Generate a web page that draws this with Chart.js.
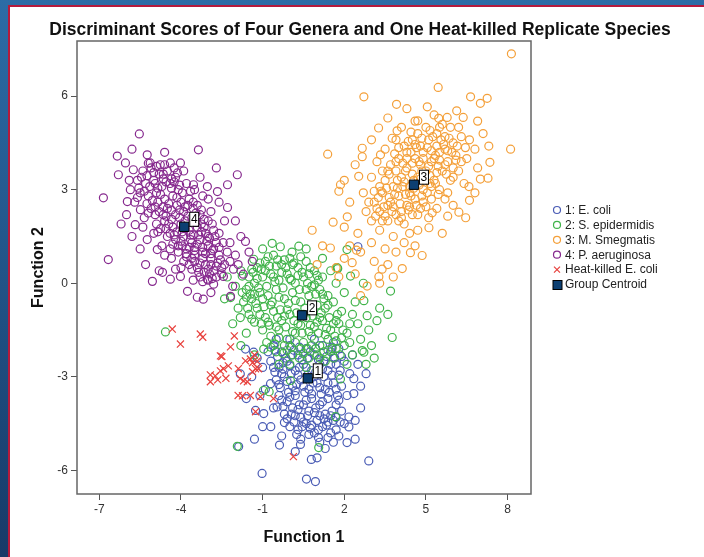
<!DOCTYPE html>
<html>
<head>
<meta charset="utf-8">
<script src="https://cdn.jsdelivr.net/npm/chart.js@4.4.1/dist/chart.umd.min.js"></script>
<style>
html, body { margin: 0; padding: 0; width: 704px; height: 557px; overflow: hidden; }
body { background: linear-gradient(#2c6ca6, #173a68); position: relative; }
#panel { position: absolute; left: 8px; top: 5px; right: 0; bottom: 0; background: #fff;
  border-left: 2px solid #b51a3c; border-top: 2px solid #b51a3c; }
#chart { position: absolute; left: 0; top: 0; }
</style>
</head>
<body>
<div id="panel"></div>
<canvas id="chart" width="704" height="557"></canvas>
<script>
// tick labels
const xTicks = [-7, -4, -1, 2, 5, 8];
const yTicks = [-6, -3, 0, 3, 6];

// discriminant scores, [function 1, function 2]
const ecoli = [
  [-0.6,-2.0],[-0.3,-2.2],[0.0,-2.0],[0.3,-2.3],[0.6,-2.1],[0.9,-2.3],[1.2,-2.0],[1.5,-2.2],[1.8,-2.1],
  [-0.7,-2.5],[-0.4,-2.7],[-0.1,-2.5],[0.2,-2.8],[0.5,-2.6],[0.8,-2.8],[1.1,-2.6],[1.4,-2.8],[1.7,-2.6],[2.0,-2.5],
  [-0.5,-3.1],[-0.2,-3.0],[0.1,-3.3],[0.4,-3.1],[0.7,-3.4],[1.0,-3.2],[1.3,-3.4],[1.6,-3.2],[1.9,-3.3],
  [-0.4,-3.6],[-0.1,-3.8],[0.2,-3.6],[0.5,-3.9],[0.8,-3.7],[1.1,-3.9],[1.4,-3.7],[1.7,-3.9],
  [-0.2,-4.2],[0.1,-4.0],[0.4,-4.3],[0.7,-4.1],[1.0,-4.4],[1.3,-4.2],[1.6,-4.4],[1.9,-4.1],
  [0.0,-4.6],[0.3,-4.7],[0.6,-4.5],[0.9,-4.8],[1.2,-4.6],[1.5,-4.8],
  [-0.45,-2.35],[-0.15,-2.4],[0.15,-2.15],[0.45,-2.45],[0.75,-2.2],[1.05,-2.45],[1.35,-2.35],[1.65,-2.4],
  [-0.55,-2.85],[-0.25,-2.75],[0.05,-2.9],[0.35,-2.7],[0.65,-2.95],[0.95,-2.85],[1.25,-3.0],[1.55,-2.95],[1.85,-2.8],
  [-0.35,-3.35],[-0.05,-3.5],[0.25,-3.25],[0.55,-3.5],[0.85,-3.2],[1.15,-3.55],[1.45,-3.5],[1.75,-3.6],
  [-0.25,-3.95],[0.05,-4.2],[0.35,-3.9],[0.65,-4.25],[0.95,-4.0],[1.25,-4.35],[1.55,-4.1],[1.85,-4.45],
  [0.15,-4.45],[0.45,-4.6],[0.75,-4.65],[1.05,-4.7],[1.35,-4.55],[1.7,-4.7],
  [-0.55,-2.15],[-0.25,-2.55],[0.05,-2.3],[0.35,-2.05],[0.65,-2.4],[0.95,-2.1],[1.25,-2.5],[1.55,-2.05],[1.9,-2.35],
  [-0.6,-2.7],[-0.3,-2.9],[0.0,-2.65],[0.3,-2.95],[0.6,-2.7],[0.9,-3.0],[1.2,-2.75],[1.5,-2.6],[1.8,-2.95],
  [-0.4,-3.25],[-0.1,-3.15],[0.2,-3.45],[0.5,-3.3],[0.8,-3.55],[1.1,-3.35],[1.4,-3.2],[1.7,-3.4],
  [-0.3,-3.75],[0.0,-3.65],[0.3,-4.05],[0.6,-3.75],[0.9,-4.15],[1.2,-3.8],[1.5,-4.25],[1.8,-3.75],
  [-0.1,-4.35],[0.2,-4.25],[0.5,-4.45],[0.8,-4.55],[1.1,-4.25],[1.4,-4.45],[1.7,-4.3],
  [0.25,-4.85],[0.7,-4.85],[1.05,-4.95],[1.4,-4.95],
  [-0.8,-2.2],[-1.0,-2.7],[-0.9,-3.4],[-0.6,-4.0],[2.2,-2.9],[2.1,-3.6],[2.0,-4.5],[1.8,-4.9],[0.4,-5.0],
  [1.1,-5.1],[-0.3,-4.9],[2.3,-2.3],[2.5,-2.6],[-1.2,-2.4],[1.6,-1.9],[0.0,-1.8],[-0.5,-1.8],[0.9,-1.8],
  [-1.88,-5.24],[-0.38,-5.19],[0.39,-5.17],[0.79,-5.65],[-1.02,-6.1],[0.61,-6.28],[0.94,-6.36],[2.9,-5.7],
  [2.1,-5.11],[2.35,-3.06],[2.35,-3.54],[2.17,-4.29],[2.17,-4.61],[-1.63,-2.11],[-1.33,-2.21],[-1.82,-2.91],
  [-0.71,-3.22],[-0.47,-3.97],[-0.2,-4.47],[-0.96,-4.18],[-1.26,-4.08],[2.5,1.17],[1.6,-5.1],[1.3,-5.3],
  [2.6,-4.0],[-1.4,-3.0],[-1.1,-3.6],
  [-1.0,-4.6],[-0.7,-4.6],[2.4,-4.4],[2.6,-3.3],[2.8,-2.9],[0.2,-5.4],[1.0,-5.6],[-1.6,-3.7],[-1.3,-5.0],[2.4,-5.0]
];
const sEpidermidis = [
  [-1.5,0.2],[-1.2,0.5],[-0.9,0.7],[-0.6,0.9],[-0.3,0.6],[0.0,0.8],[0.3,0.5],[0.6,0.7],[0.9,0.4],[1.2,0.2],
  [-1.6,-0.2],[-1.3,0.0],[-1.0,0.2],[-0.7,0.3],[-0.4,0.1],[-0.1,0.3],[0.2,0.0],[0.5,0.2],[0.8,-0.1],[1.1,-0.2],[1.4,-0.4],
  [-1.7,-0.6],[-1.4,-0.5],[-1.1,-0.3],[-0.8,-0.4],[-0.5,-0.2],[-0.2,-0.5],[0.1,-0.3],[0.4,-0.6],[0.7,-0.4],[1.0,-0.7],
  [1.3,-0.8],[1.6,-0.6],[1.9,-0.9],
  [-1.5,-1.0],[-1.2,-0.8],[-0.9,-1.1],[-0.6,-0.9],[-0.3,-1.2],[0.0,-1.0],[0.3,-1.3],[0.6,-1.1],[0.9,-1.4],[1.2,-1.2],
  [1.5,-1.5],[1.8,-1.3],[2.1,-1.6],
  [-1.0,-1.5],[-0.7,-1.7],[-0.4,-1.5],[-0.1,-1.8],[0.2,-1.6],[0.5,-1.9],[0.8,-1.7],[1.1,-2.0],[1.4,-1.8],[1.7,-2.1],[2.0,-2.0],
  [-0.5,-2.2],[-0.2,-2.0],[0.1,-2.3],[0.4,-2.1],[0.7,-2.4],[1.0,-2.3],[1.3,-2.5],[1.6,-2.4],[2.3,-2.3],[0.0,-2.6],[0.6,-2.7],[1.0,-2.8],
  [-1.35,0.35],[-1.05,0.45],[-0.75,0.55],[-0.45,0.75],[-0.15,0.5],[0.15,0.65],[0.45,0.35],[0.75,0.5],[1.05,0.1],
  [-1.45,-0.35],[-1.15,-0.15],[-0.85,-0.1],[-0.55,0.05],[-0.25,-0.15],[0.05,0.1],[0.35,-0.2],[0.65,0.0],[0.95,-0.35],[1.25,-0.5],
  [-1.55,-0.8],[-1.25,-0.65],[-0.95,-0.75],[-0.65,-0.6],[-0.35,-0.85],[-0.05,-0.65],[0.25,-0.95],[0.55,-0.8],[0.85,-1.05],
  [1.15,-0.95],[1.45,-1.1],[1.75,-1.0],
  [-1.3,-1.25],[-1.05,-1.3],[-0.75,-1.35],[-0.45,-1.1],[-0.15,-1.4],[0.15,-1.2],[0.45,-1.6],[0.75,-1.35],[1.05,-1.6],
  [1.35,-1.45],[1.65,-1.7],[1.95,-1.5],
  [-0.85,-1.9],[-0.55,-1.95],[-0.25,-2.25],[0.05,-2.05],[0.35,-2.4],[0.65,-2.1],[0.95,-2.1],[1.25,-2.2],[1.55,-2.1],[1.85,-2.3],
  [-1.4,0.45],[-1.1,0.65],[-0.8,0.85],[-0.5,0.55],[-0.2,0.75],[0.1,0.6],[0.4,0.85],[0.7,0.3],[1.0,0.25],
  [-1.5,-0.1],[-1.2,0.15],[-0.9,0.4],[-0.6,0.2],[-0.3,0.35],[0.0,0.15],[0.3,0.25],[0.6,-0.2],[0.9,-0.05],[1.2,-0.35],
  [-1.6,-0.45],[-1.3,-0.35],[-1.0,-0.5],[-0.7,-0.7],[-0.4,-0.45],[-0.1,-0.85],[0.2,-0.55],[0.5,-1.0],[0.8,-0.7],[1.1,-1.1],
  [1.4,-0.7],[1.7,-1.2],
  [-1.4,-1.15],[-1.1,-1.0],[-0.8,-1.25],[-0.5,-1.4],[-0.2,-1.05],[0.1,-1.55],[0.4,-1.35],[0.7,-1.55],[1.0,-1.25],[1.3,-1.65],
  [1.6,-1.3],[1.9,-1.75],
  [-0.7,-2.05],[-0.4,-1.75],[-0.1,-2.15],[0.2,-1.9],[0.5,-2.25],[0.8,-2.0],[1.1,-2.4],[1.4,-2.15],[1.7,-1.85],[2.2,-1.3],
  [2.2,-1.9],[-1.75,-0.3],
  [2.3,-1.0],[2.5,-1.3],[2.4,-0.6],[2.0,-0.3],[1.7,0.0],[1.5,0.4],[2.6,-1.8],[2.9,-1.5],[3.0,-2.0],[-1.9,-0.8],[-2.0,-0.1],[-1.8,0.4],
  [-0.65,1.28],[-0.35,1.17],[0.33,1.19],[0.08,1.0],[-1.75,0.23],[-2.18,-0.46],[-1.82,-1.1],[1.74,0.5],[2.23,0.23],
  [2.72,-0.56],[3.7,-0.25],[3.76,-1.74],[2.84,-1.04],[2.72,-2.21],[-1.33,0.77],[-0.96,-2.11],[-1.93,-5.23],[1.06,-5.27],
  [-0.76,-3.48],[0.02,-3.12],[-0.97,-3.44],[1.68,-4.28],[1.86,-3.07],[2.66,-2.16],[-1.3,-2.3],[3.3,-0.8],[-4.57,-1.56],
  [3.1,-2.4],[3.6,-1.0],[-2.4,-0.5],[2.1,-2.6],[2.1,1.08],[1.76,0.47],
  [-2.3,0.2],[-2.1,-1.3],[-1.6,-1.6],[-1.8,-2.0],[-1.0,1.1],[0.6,1.1],[1.2,0.8],[2.7,0.0],[3.2,-1.2],[2.8,-2.6],[-0.4,-2.6]
];
const mSmegmatis = [
  [3.0,2.0],[3.3,2.3],[3.6,2.0],[3.9,2.2],[4.2,1.9],[4.5,2.2],[4.8,2.4],[3.1,2.6],[3.4,2.9],[3.7,2.6],[4.0,2.8],[4.3,2.5],
  [4.6,2.7],[4.9,3.0],[5.2,2.7],[5.5,3.0],[3.5,3.3],[3.8,3.1],[4.1,3.4],[4.4,3.1],[4.7,3.4],[5.0,3.6],[5.3,3.3],[5.6,3.6],
  [5.9,3.3],[3.7,3.8],[4.0,4.0],[4.3,3.7],[4.6,4.0],[4.9,4.2],[5.2,3.9],[5.5,4.2],[5.8,3.9],[6.1,4.1],[4.2,4.4],[4.5,4.6],
  [4.8,4.4],[5.1,4.6],[5.4,4.4],[5.7,4.7],[6.0,4.5],[6.3,4.7],[5.0,5.0],[5.6,5.1],[6.2,5.0],[6.6,4.6],[6.5,4.0],[6.8,4.3],
  [6.2,3.6],[6.4,3.2],[5.8,2.9],[6.0,2.5],[5.4,2.4],[5.1,2.1],[4.4,1.6],[3.8,1.5],[3.3,1.7],[2.8,2.3],[2.7,2.9],[3.0,3.4],
  [3.2,3.9],[3.5,4.3],[3.9,4.6],[4.1,5.0],[4.6,5.2],[5.3,5.4],[2.5,1.6],[2.2,1.2],[2.6,1.0],[3.0,1.3],[3.5,1.1],[3.9,1.0],
  [3.6,0.6],[3.1,0.7],[2.0,0.8],[1.7,0.5],[2.4,0.3],[4.2,1.3],[4.7,1.7],[4.1,2.3],[3.6,2.5],[4.4,2.9],[4.9,2.6],[5.2,3.1],
  [3.9,3.6],[4.5,3.5],[4.8,3.8],[5.3,4.0],[5.7,4.3],[6.0,3.7],[4.3,4.2],[4.7,4.8],[5.4,4.8],[5.9,5.0],[3.3,3.1],[4.0,2.0],
  [3.15,2.15],[3.45,2.45],[3.75,2.3],[4.05,2.55],[4.35,2.35],[4.65,2.5],[3.25,2.75],[3.55,3.05],[3.85,2.85],[4.15,3.1],
  [4.45,2.8],[4.75,3.15],[5.05,2.9],[5.35,3.2],[3.65,3.5],[3.95,3.3],[4.25,3.6],[4.55,3.3],[4.85,3.6],[5.15,3.45],
  [5.45,3.75],[5.75,3.5],[3.85,4.15],[4.15,3.85],[4.45,4.2],[4.75,3.9],[5.05,4.35],[5.35,4.1],[5.65,4.45],[5.95,4.2],
  [4.35,4.55],[4.65,4.35],[5.25,4.7],[5.55,4.6],[6.15,4.4],[3.4,2.0],[2.9,2.6],[6.3,3.9],[5.7,2.7],
  [3.2,2.4],[3.5,2.15],[3.8,2.45],[4.1,2.1],[4.4,2.45],[4.7,2.2],[5.0,2.45],
  [3.35,2.95],[3.65,2.75],[3.95,3.05],[4.25,2.85],[4.55,3.05],[4.85,2.8],[5.15,3.2],[5.45,2.85],
  [3.6,3.6],[3.9,3.9],[4.2,3.25],[4.5,3.85],[4.8,3.35],[5.1,3.75],[5.4,3.55],[5.7,3.8],[6.0,3.4],
  [4.0,4.35],[4.3,4.0],[4.6,4.45],[4.9,4.0],[5.2,4.25],[5.5,3.95],[5.8,4.25],[6.1,3.95],
  [4.45,4.85],[4.85,4.65],[5.15,4.9],[5.5,5.0],[5.85,4.65],[6.45,4.35],[3.4,3.6],[3.1,2.95],
  [8.14,7.36],[8.11,4.3],[2.72,5.98],[3.92,5.74],[5.45,6.28],[6.64,5.98],[7.25,5.93],[7.0,5.77],[6.13,5.53],[6.37,5.32],
  [1.39,4.14],[3.26,4.98],[5.05,5.66],[4.7,5.21],[5.47,5.29],[5.78,5.32],[7.31,4.4],[7.35,3.88],[7.28,3.37],[7.0,3.34],
  [6.58,3.1],[6.6,2.66],[6.46,2.1],[5.8,2.15],[6.21,2.28],[5.23,2.26],[5.11,1.78],[4.86,0.89],[4.43,0.98],[4.13,0.47],
  [3.39,0.45],[3.27,0.21],[2.84,-0.09],[2.29,0.66],[1.8,0.21],[1.49,1.13],[0.82,1.7],[1.59,1.96],[2.11,2.13],[1.86,3.16],
  [1.8,2.95],[2.53,3.43],[2.66,4.33],[2.66,4.06],[3.33,4.12],[3.76,4.65],[3.94,4.89],[2.45,1.06],
  [2.2,2.6],[2.4,3.8],[2.0,1.8],[1.2,1.2],[1.0,0.6],[3.0,4.6],[3.6,5.3],[4.3,5.6],[6.9,5.2],[7.1,4.8],[6.9,3.7],
  [6.8,2.9],[5.6,1.6],[4.6,1.2],[3.3,0.0],[2.6,-0.4],[3.8,0.2],[2.0,3.3]
];
const pAeruginosa = [
  [-5.53,4.79],[-3.36,4.28],[-6.34,4.08],[-6.04,3.86],[-6.3,3.48],[-5.24,4.12],[-1.93,3.48],[-6.85,2.74],[-6.67,0.76],
  [-5.68,1.88],[-5.97,2.62],[-5.05,0.06],[-4.68,0.35],[-4.39,0.13],[-3.76,-0.26],[-3.4,-0.45],[-3.18,-0.51],[-2.18,-0.42],
  [-1.71,0.29],[-1.38,0.7],[-1.63,1.34],[-2.29,2.43],[-2.29,3.16],[-2.66,2.94],[-4.02,3.86],[-4.39,3.86],[-5.13,3.86],
  [-5.75,3.64],[-4.76,3.8],[-4.13,3.54],[-3.03,3.1],[-3.54,3.16],[-2.07,0.45],[-2.44,0.22],[-2.8,-0.03],[-3.03,0.13],
  [-4.02,0.22],[-4.87,1.08],[-5.24,1.4],[-5.49,2.36],[-5.86,3.0],
  [-5.4,3.6],[-5.1,3.7],[-4.8,3.5],[-4.5,3.6],[-4.2,3.4],[-5.3,3.2],[-5.0,3.3],[-4.7,3.1],[-4.4,3.2],[-4.1,3.0],[-3.8,3.2],
  [-5.5,2.9],[-5.2,2.8],[-4.9,2.9],[-4.6,2.7],[-4.3,2.8],[-4.0,2.6],[-3.7,2.7],[-3.4,2.5],[-5.1,2.4],[-4.8,2.3],[-4.5,2.4],
  [-4.2,2.2],[-3.9,2.3],[-3.6,2.1],[-3.3,2.2],[-3.0,2.0],[-4.9,1.9],[-4.6,2.0],[-4.3,1.8],[-4.0,1.9],[-3.7,1.7],[-3.4,1.8],
  [-3.1,1.6],[-2.8,1.7],[-4.5,1.5],[-4.2,1.4],[-3.9,1.5],[-3.6,1.3],[-3.3,1.4],[-3.0,1.2],[-2.7,1.3],[-4.1,1.0],[-3.8,1.1],
  [-3.5,0.9],[-3.2,1.0],[-2.9,0.8],[-2.6,0.9],[-3.7,0.6],[-3.4,0.5],[-3.1,0.6],[-2.8,0.4],[-2.5,0.5],[-3.3,0.2],[-3.0,0.1],
  [-2.7,0.2],[-5.0,3.55],[-4.65,3.35],[-4.35,3.05],[-4.85,2.6],[-4.55,2.15],[-4.15,2.5],[-3.85,2.0],[-3.55,2.4],[-4.4,1.6],
  [-3.95,1.2],[-3.65,1.55],[-3.25,1.9],[-3.5,1.15],[-3.0,1.5],[-2.85,1.05],[-3.6,0.8],[-3.15,0.35],[-2.55,0.75],[-2.3,1.0],
  [-2.4,0.6],[-5.6,3.3],[-5.7,2.6],[-5.35,2.1],[-5.0,1.6],[-4.7,1.2],[-4.35,0.8],[-4.0,0.5],[-2.6,1.6],[-2.4,2.0],[-2.9,2.3],
  [-3.2,2.8],[-3.5,3.0],[-3.9,3.6],[-2.2,1.3],[-2.0,0.9],[-1.9,0.6],
  [-5.25,3.45],[-4.95,3.2],[-4.65,3.5],[-4.35,3.35],[-4.05,3.15],[-5.35,2.95],[-5.05,2.65],[-4.75,2.85],[-4.45,2.55],
  [-4.15,2.75],[-3.85,2.45],[-3.55,2.6],[-3.25,2.35],[-4.95,2.2],[-4.65,2.45],[-4.35,2.05],[-4.05,2.35],[-3.75,2.15],
  [-3.45,1.95],[-3.15,2.05],[-4.75,1.75],[-4.45,1.9],[-4.15,1.65],[-3.85,1.75],[-3.55,1.55],[-3.25,1.65],[-2.95,1.45],
  [-4.3,1.25],[-4.0,1.35],[-3.7,1.15],[-3.4,1.25],[-3.1,0.95],[-2.8,1.1],[-3.8,0.85],[-3.5,0.7],[-3.2,0.8],[-2.9,0.6],
  [-2.65,0.65],[-3.35,0.35],[-2.95,0.3],
  [-5.45,3.4],[-5.15,3.1],[-4.85,3.05],[-4.55,3.25],[-4.25,3.25],[-3.95,2.9],[-3.65,2.95],[-5.25,2.55],[-4.95,2.45],
  [-4.65,2.2],[-4.35,2.35],[-4.05,2.1],[-3.75,2.5],[-3.45,2.25],[-3.15,1.8],[-2.85,1.9],[-4.85,1.65],[-4.55,1.75],
  [-4.25,1.55],[-3.95,1.65],[-3.65,1.4],[-3.35,1.55],[-3.05,1.35],[-2.75,1.5],[-4.4,1.1],[-4.1,1.2],[-3.8,0.95],
  [-3.5,1.05],[-3.2,1.15],[-2.9,0.95],[-2.6,1.15],[-3.9,0.7],[-3.6,0.45],[-3.3,0.65],[-3.0,0.45],[-2.7,0.55],[-3.2,0.05],
  [-2.85,0.15],[-5.55,3.05],[-5.2,3.85],[-4.6,3.8],[-4.25,3.7],[-4.9,3.75],[-5.6,2.75],[-5.2,2.25],[-2.45,1.3],[-2.2,0.7],
  [-2.5,0.3],[-3.55,0.1],[-4.2,0.45],
  [-6.0,2.2],[-5.8,1.5],[-5.5,1.1],[-6.2,1.9],[-5.9,3.3],[-5.3,0.6],[-4.8,0.4],[-2.0,2.0],[-1.8,1.5],[-2.6,2.6],
  [-3.0,2.7],[-3.3,3.4],[-2.7,3.7],[-4.6,4.2],[-5.8,4.3],[-1.5,1.0],[-2.1,-0.1],[-2.9,-0.3],[-4.6,0.9],[-5.4,1.8]
];
const heatKilled = [
  [-4.32,-1.47],[-4.02,-1.95],[-3.29,-1.63],[-3.2,-1.73],[-2.04,-1.69],[-2.18,-2.04],[-2.55,-2.33],[-2.26,-2.65],
  [-2.55,-2.81],[-2.92,-2.94],[-2.92,-3.16],[-1.89,-2.74],[-1.63,-2.49],[-1.45,-2.43],[-1.26,-2.74],[-1.82,-3.06],
  [-1.56,-3.16],[-1.74,-3.61],[-1.45,-3.6],[-1.08,-3.64],[-2.44,-2.74],[-2.74,-2.97],[-1.7,-3.13],[-1.37,-2.84],
  [-1.15,-2.74],[-1.37,-2.55],[-0.6,-3.7],[-1.26,-4.12],[0.13,-5.56],[-2.5,-2.35],[-2.35,-3.05],[-2.65,-3.1],
  [-1.9,-3.6],[-1.3,-2.3],[-1.2,-2.5]
];
const centroids = [[0.66,-3.05],[0.45,-1.03],[4.56,3.16],[-3.88,1.81]];
const centroidLabels = ['1', '2', '3', '4'];

const toPts = arr => arr.map(p => ({x: p[0], y: p[1]}));

function circleSet(label, pts, color, order) {
  return {
    label: label, data: toPts(pts), order: order,
    pointStyle: 'circle', pointRadius: 4, pointBorderWidth: 1.2,
    borderColor: color, backgroundColor: 'rgba(0,0,0,0)'
  };
}

const datasets = [
  {label: 'Group Centroid', data: toPts(centroids), order: 0, pointStyle: 'rect', pointRadius: 6.6,
   pointBorderWidth: 1, borderColor: '#000', backgroundColor: '#0c3f72'},
  {label: 'Heat-killed E. coli', data: toPts(heatKilled), order: 1, pointStyle: 'crossRot', pointRadius: 5,
   pointBorderWidth: 1.2, borderColor: '#e8413d', backgroundColor: '#e8413d'},
  circleSet('4: P. aeruginosa', pAeruginosa, '#86298e', 2),
  circleSet('3: M. Smegmatis', mSmegmatis, '#f4a03a', 3),
  circleSet('2: S. epidermidis', sEpidermidis, '#40b34a', 4),
  circleSet('1: E. coli', ecoli, '#4a5cb5', 5)
];

// title, frame, centroid labels and legend
const extras = {
  id: 'extras',
  beforeDatasetsDraw(chart) {
    const ctx = chart.ctx, a = chart.chartArea;
    ctx.save();
    ctx.strokeStyle = '#666';
    ctx.lineWidth = 1.5;
    ctx.strokeRect(a.left, a.top, a.right - a.left, a.bottom - a.top);
    ctx.restore();
  },
  afterDraw(chart) {
    const ctx = chart.ctx, xs = chart.scales.x, ys = chart.scales.y;
    ctx.save();
    ctx.fillStyle = '#111';
    ctx.font = 'bold 17.5px Arial';
    ctx.textAlign = 'center';
    ctx.textBaseline = 'middle';
    ctx.fillText('Discriminant Scores of Four Genera and One Heat-killed Replicate Species', 360, 30);

    // centroid number boxes
    ctx.font = '12px Arial';
    centroids.forEach((c, i) => {
      const px = xs.getPixelForValue(c[0]), py = ys.getPixelForValue(c[1]);
      const bx = px + 5, by = py - 15, bw = 9, bh = 14;
      ctx.fillStyle = '#fff';
      ctx.fillRect(bx, by, bw, bh);
      ctx.strokeStyle = '#000';
      ctx.lineWidth = 1;
      ctx.strokeRect(bx + 0.5, by + 0.5, bw, bh);
      ctx.fillStyle = '#000';
      ctx.fillText(centroidLabels[i], bx + bw / 2 + 0.5, by + bh / 2 + 1);
    });

    // legend
    const items = datasets.slice().reverse();
    ctx.font = '12px Arial';
    ctx.textAlign = 'left';
    items.forEach((d, i) => {
      const mx = 557, my = 210 + i * 14.9;
      ctx.strokeStyle = d.borderColor;
      ctx.lineWidth = 1.2;
      if (d.pointStyle === 'circle') {
        ctx.beginPath();
        ctx.arc(mx, my, 3.5, 0, Math.PI * 2);
        ctx.stroke();
      } else if (d.pointStyle === 'crossRot') {
        ctx.beginPath();
        ctx.moveTo(mx - 3, my - 3); ctx.lineTo(mx + 3, my + 3);
        ctx.moveTo(mx + 3, my - 3); ctx.lineTo(mx - 3, my + 3);
        ctx.stroke();
      } else {
        ctx.fillStyle = d.backgroundColor;
        ctx.lineWidth = 1;
        ctx.fillRect(mx - 4, my - 4, 9, 9);
        ctx.strokeRect(mx - 4, my - 4, 9, 9);
      }
      ctx.fillStyle = '#222';
      ctx.fillText(d.label, 565, my + 0.5);
    });
    ctx.restore();
  }
};

new Chart(document.getElementById('chart'), {
  type: 'scatter',
  data: {datasets: datasets},
  options: {
    responsive: false,
    animation: false,
    layout: {padding: {left: 0, top: 41, right: 173, bottom: 0}},
    plugins: {legend: {display: false}, tooltip: {enabled: false}},
    scales: {
      x: {
        type: 'linear', min: -7.82, max: 8.86,
        afterBuildTicks: s => { s.ticks = xTicks.map(v => ({value: v})); },
        afterFit: s => { s.height = 63; },
        grid: {drawOnChartArea: false, drawTicks: true, tickLength: 6, color: '#555'},
        border: {display: false},
        ticks: {font: {family: 'Arial', size: 12}, color: '#333', padding: 2},
        title: {display: true, text: 'Function 1', color: '#111',
                font: {family: 'Arial', size: 16, weight: 'bold'}, padding: {top: 0, bottom: 10}}
      },
      y: {
        type: 'linear', min: -6.76, max: 7.77,
        afterBuildTicks: s => { s.ticks = yTicks.map(v => ({value: v})); },
        afterFit: s => { s.width = 77; },
        grid: {drawOnChartArea: false, drawTicks: true, tickLength: 6, color: '#555'},
        border: {display: false},
        ticks: {font: {family: 'Arial', size: 12}, color: '#333', padding: 3},
        title: {display: true, text: 'Function 2', color: '#111',
                font: {family: 'Arial', size: 16, weight: 'bold'}, padding: {top: 29, bottom: 0}}
      }
    }
  },
  plugins: [extras]
});
</script>
</body>
</html>
